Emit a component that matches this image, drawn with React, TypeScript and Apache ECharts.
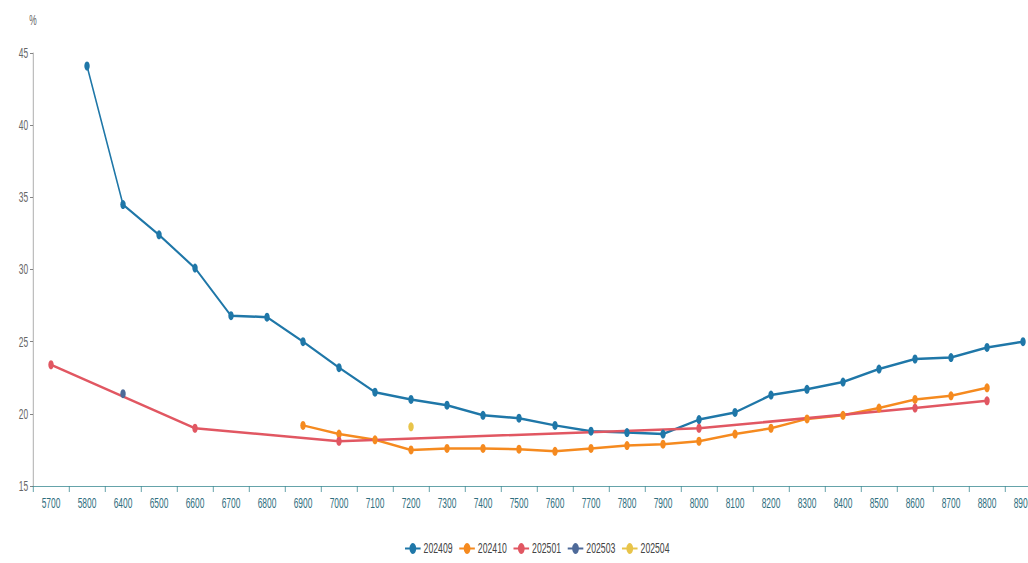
import React, { useEffect, useRef } from "react";
import * as echarts from "echarts";

const categories = ["5700","5800","6400","6500","6600","6700","6800","6900","7000","7100","7200","7300","7400","7500","7600","7700","7800","7900","8000","8100","8200","8300","8400","8500","8600","8700","8800","8900"];

const s202409 = [null,44.1,34.5,32.4,30.1,26.8,26.7,25.0,23.2,21.5,21.0,20.6,19.9,19.7,19.2,18.8,18.7,18.6,19.6,20.1,21.3,21.7,22.2,23.1,23.8,23.9,24.6,25.0];
const s202410 = [null,null,null,null,null,null,null,19.2,18.6,18.2,17.5,17.6,17.6,17.55,17.4,17.6,17.8,17.9,18.1,18.6,19.0,19.65,19.9,20.4,21.0,21.25,21.8,null];
const s202501 = [23.4,null,null,null,19.0,null,null,null,18.1,null,null,null,null,null,null,null,null,null,19.0,null,null,null,null,null,20.4,null,20.9,null];
const s202503 = [null,null,21.4,null,null,null,null,null,null,null,null,null,null,null,null,null,null,null,null,null,null,null,null,null,null,null,null,null];
const s202504 = [null,null,null,null,null,null,null,null,null,null,19.1,null,null,null,null,null,null,null,null,null,null,null,null,null,null,null,null,null];

const seriesNames = ["202409","202410","202501","202503","202504"];
const seriesData = [s202409, s202410, s202501, s202503, s202504];
const colors = ["#1f77a8","#f58a1f","#e15762","#4e6a99","#e8c44a"];

const SX = 0.6;
const W = 1790;
const H = 563;

export default function App() {
  const ref = useRef<HTMLDivElement>(null);
  useEffect(() => {
    if (!ref.current) return;
    const chart = echarts.init(ref.current, null, { renderer: "svg" });
    chart.setOption({
      animation: false,
      color: colors,
      textStyle: { fontFamily: "Liberation Sans, Arial, sans-serif" },
      grid: { left: 55, right: 55, top: 53, bottom: 77, containLabel: false },
      legend: {
        bottom: 2,
        left: "center",
        itemWidth: 26,
        itemHeight: 14,
        itemGap: 10,
        textStyle: { color: "#444", fontSize: 14.5 },
        data: seriesNames,
      },
      xAxis: {
        type: "category",
        data: categories,
        boundaryGap: true,
        axisLine: { lineStyle: { color: "#3d8b94", width: 1 } },
        axisTick: { show: true, length: 6, lineStyle: { color: "#3d8b94" } },
        axisLabel: { color: "#2e6e7e", fontSize: 14, interval: 0, margin: 10 },
        splitLine: { show: false },
      },
      yAxis: {
        type: "value",
        name: "%",
        nameGap: 26,
        nameTextStyle: { color: "#666", fontSize: 14 },
        min: 15,
        max: 45,
        interval: 5,
        axisLine: { show: true, lineStyle: { color: "#999" } },
        axisTick: { show: true, lineStyle: { color: "#666" } },
        axisLabel: { color: "#666", fontSize: 14 },
        splitLine: { show: false },
      },
      series: seriesNames.map((name, i) => ({
        name,
        type: "line",
        data: seriesData[i],
        connectNulls: true,
        symbol: "circle",
        symbolSize: 9,
        showAllSymbol: true,
        lineStyle: { width: 2.5, color: colors[i] },
        itemStyle: { color: colors[i] },
      })),
    });
    return () => chart.dispose();
  }, []);
  return (
    <div style={{ position: "fixed", left: 0, top: 0, width: 1028, height: H, overflow: "hidden", background: "#fff" }}>
      <div
        ref={ref}
        style={{ width: W, height: H, transform: `scaleX(${SX})`, transformOrigin: "0 0" }}
      />
    </div>
  );
}
